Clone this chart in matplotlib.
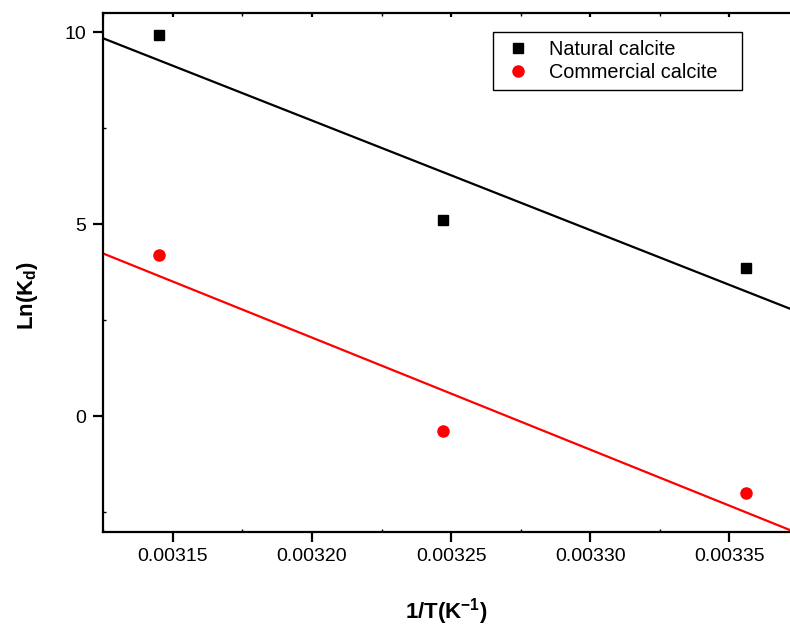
import matplotlib
matplotlib.use("Agg")
import matplotlib.pyplot as plt
from matplotlib.ticker import MultipleLocator
import numpy as np

plt.rcParams['font.family'] = ['Liberation Sans', 'DejaVu Sans']
plt.rcParams['mathtext.fontset'] = 'custom'
plt.rcParams['mathtext.rm'] = 'Liberation Sans'
plt.rcParams['mathtext.bf'] = 'Liberation Sans:bold'

# данные
inv_T = [0.003145, 0.003247, 0.003356]
ln_kd_natural = [9.92, 5.10, 3.86]
ln_kd_commercial = [4.20, -0.38, -1.99]

x_min, x_max = 0.0031249, 0.0033718
y_min, y_max = -3.0, 10.5

fig = plt.figure(figsize=(7.9, 6.26), dpi=100)
ax = fig.add_axes([103 / 790, 1 - 531.5 / 626, 1 - 103 / 790, (531.5 - 13) / 626])

ax.plot(inv_T, ln_kd_natural, 's', color='black', markersize=7.5, label='Natural calcite', zorder=3)
ax.plot(inv_T, ln_kd_commercial, 'o', color='red', markersize=8, label='Commercial calcite', zorder=3)

# линейная аппроксимация
xx = np.array([x_min, x_max])
k1, b1 = np.polyfit(inv_T, ln_kd_natural, 1)
k2, b2 = np.polyfit(inv_T, ln_kd_commercial, 1)
ax.plot(xx, k1 * xx + b1, color='black', linewidth=1.6)
ax.plot(xx, k2 * xx + b2, color='red', linewidth=1.6)

ax.set_xlim(x_min, x_max)
ax.set_ylim(y_min, y_max)
ax.xaxis.set_major_locator(MultipleLocator(0.00005))
ax.xaxis.set_minor_locator(MultipleLocator(0.000025))
ax.yaxis.set_major_locator(MultipleLocator(5))
ax.yaxis.set_minor_locator(MultipleLocator(2.5))
ax.xaxis.set_major_formatter(plt.FuncFormatter(lambda v, p: f"{v:.5f}"))

for s in ['left', 'bottom', 'top']:
    ax.spines[s].set_linewidth(1.6)
ax.spines['right'].set_visible(False)

ax.tick_params(axis='both', which='major', direction='out', length=7, width=1.6,
               labelsize=14, pad=5)
ax.tick_params(axis='both', which='minor', direction='in', length=2, width=1)
ax.tick_params(axis='x', which='both', top=True)
for t in ax.xaxis.get_major_ticks():
    t.tick2line.set_markersize(3)
    t.tick2line.set_marker(3)

ax.set_xlabel(r"1/T(K$^{\mathbf{-1}}$)", fontsize=16, fontweight='bold', labelpad=22)
ax.set_ylabel(r"Ln(K$_{\mathbf{d}}$)", fontsize=16, fontweight='bold')
ax.yaxis.set_label_coords(-0.092, 0.456)

# легенда
x0, y1 = 492.7 / 790, 1 - 31.7 / 626
w, h = (742 - 492.7) / 790, 59 / 626
leg = ax.legend(loc='upper left', bbox_to_anchor=(x0, y1 - h, w, h), mode='expand',
                bbox_transform=fig.transFigure, fontsize=14.3, fancybox=False,
                edgecolor='black', framealpha=1, borderpad=0.4, handlelength=1.7,
                handletextpad=0.75, labelspacing=0.22, borderaxespad=0)
leg.get_frame().set_linewidth(1.0)

plt.savefig("out.png", dpi=100)
